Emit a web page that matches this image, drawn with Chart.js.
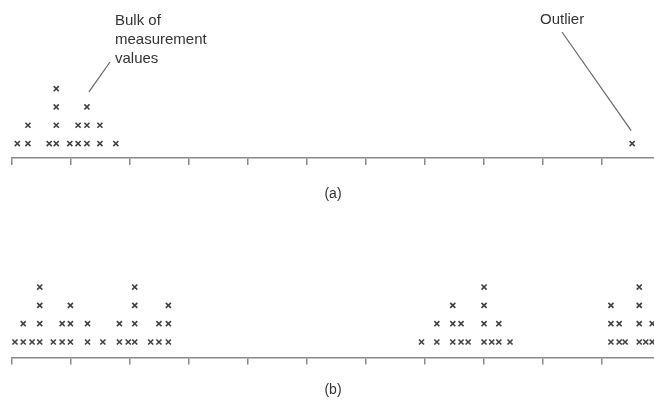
<!DOCTYPE html>
<html>
<head>
<meta charset="utf-8">
<script src="https://cdn.jsdelivr.net/npm/chart.js@4.4.0/dist/chart.umd.min.js"></script>
<style>
  html, body { margin: 0; padding: 0; background: #fff; }
  #wrap { position: relative; width: 654px; height: 403px; overflow: hidden; }
  .panel { position: absolute; left: 0; width: 654px; }
  #pa { top: 0; height: 210px; }
  #pb { top: 200px; height: 203px; }
</style>
</head>
<body>
<div id="wrap">
  <div class="panel" id="pa"><canvas id="chartA"></canvas></div>
  <div class="panel" id="pb"><canvas id="chartB"></canvas></div>
</div>
<script>
// positions along the axis (1 = one tick spacing) and how many x's are stacked there
const aValues = [0.09, 0.27, 0.63, 0.75, 0.98, 1.12, 1.27, 1.49, 1.76, 10.51];
const aCounts = [1, 2, 1, 4, 1, 2, 3, 2, 1, 1];

const bValues = [0.05, 0.19, 0.34, 0.47, 0.70, 0.85, 0.99, 1.28, 1.54, 1.82, 1.97, 2.08, 2.35, 2.49, 2.65,
                 6.94, 7.20, 7.47, 7.61, 7.73, 8.00, 8.13, 8.25, 8.44,
                 10.15, 10.29, 10.39, 10.63, 10.74, 10.85];
const bCounts = [1, 2, 1, 4, 1, 2, 3, 2, 1, 2, 1, 4, 1, 2, 3,
                 1, 2, 3, 2, 1, 4, 1, 2, 1,
                 3, 2, 1, 4, 1, 2];

const panelLabels = ["(a)", "(b)"];
const bulkNote = ["Bulk of", "measurement", "values"];
const outlierNote = ["Outlier"];

const FONT = '"Liberation Sans", Arial, Helvetica, sans-serif';
Chart.defaults.font.family = FONT;

function stackPoints(values, counts) {
  const pts = [];
  values.forEach((v, i) => {
    for (let r = 1; r <= counts[i]; r++) pts.push({ x: v, y: r });
  });
  return pts;
}

// text labels with a leader line pointing at a data point
const notesPlugin = {
  id: 'notes',
  afterDatasetsDraw(chart, args, opts) {
    if (!opts.items) return;
    const { ctx, scales } = chart;
    ctx.save();
    ctx.font = '15px ' + FONT;
    ctx.fillStyle = '#333';
    ctx.strokeStyle = '#666';
    ctx.lineWidth = 1.2;
    opts.items.forEach(n => {
      n.lines.forEach((t, i) => ctx.fillText(t, n.textX, n.textY + i * n.lineGap));
      const px = scales.x.getPixelForValue(n.at[0]) + n.offset[0];
      const py = scales.y.getPixelForValue(n.at[1]) + n.offset[1];
      ctx.beginPath();
      ctx.moveTo(n.from[0], n.from[1]);
      ctx.lineTo(px, py);
      ctx.stroke();
    });
    ctx.restore();
  }
};

function makePanel(id, values, counts, label, yMin, yMax, titlePad, notes) {
  return new Chart(document.getElementById(id), {
    type: 'scatter',
    data: {
      datasets: [{
        data: stackPoints(values, counts),
        pointStyle: 'crossRot',
        pointRadius: 3.6,
        pointHoverRadius: 3.6,
        borderColor: '#404040',
        borderWidth: 1.6,
        clip: false
      }]
    },
    options: {
      responsive: true,
      maintainAspectRatio: false,
      animation: false,
      events: [],
      layout: { autoPadding: false, padding: { left: 12, right: 0, top: 8, bottom: 0 } },
      plugins: { legend: { display: false }, tooltip: { enabled: false }, notes: { items: notes } },
      scales: {
        x: {
          type: 'linear',
          min: 0,
          max: 10.88,
          ticks: { display: false, stepSize: 1, includeBounds: false },
          grid: { drawOnChartArea: false, drawTicks: true, tickLength: 7, color: '#8a8a8a', lineWidth: 1.5 },
          border: { display: true, color: '#8a8a8a', width: 1.5 },
          title: {
            display: true,
            text: label,
            color: '#333',
            font: { size: 14 },
            padding: titlePad
          }
        },
        y: { display: false, min: yMin, max: yMax }
      }
    },
    plugins: [notesPlugin]
  });
}

makePanel('chartA', aValues, aCounts, panelLabels[0], 0.21, 8.41, { top: 20.6, bottom: 7.6 }, [
  { lines: bulkNote, textX: 115, textY: 25, lineGap: 19.2, from: [110, 62], at: [1.27, 3], offset: [2, -15] },
  { lines: outlierNote, textX: 540, textY: 24, lineGap: 19.2, from: [562, 32], at: [10.51, 1], offset: [-1, -13] }
]);

makePanel('chartB', bValues, bCounts, panelLabels[1], 0.153, 8.32, { top: 17.6, bottom: 4.1 }, null);
</script>
</body>
</html>
